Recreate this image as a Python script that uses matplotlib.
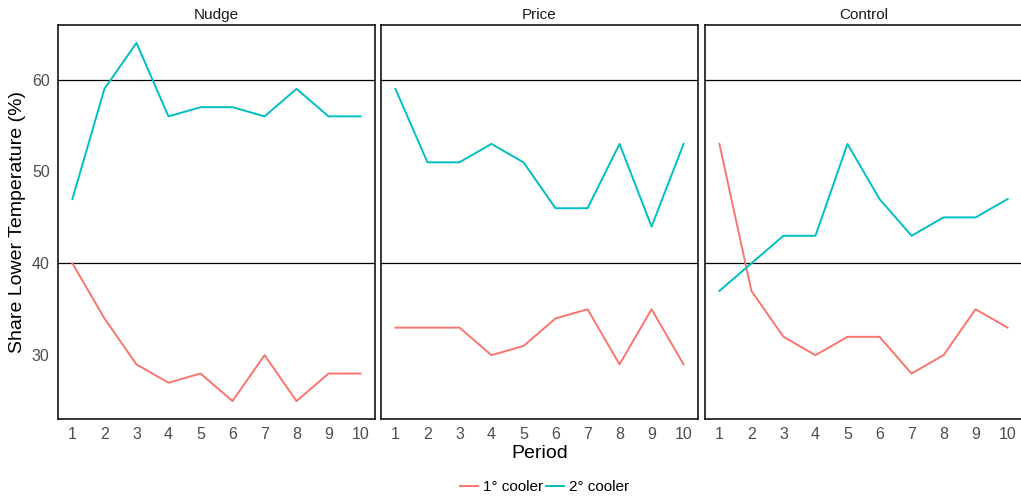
import numpy as np
import matplotlib.pyplot as plt
from matplotlib.lines import Line2D

plt.rcParams['font.family'] = ['Liberation Sans', 'DejaVu Sans']

periods = np.arange(1, 11)
panels = ['Nudge', 'Price', 'Control']

# share lower temperature (%) per period
cooler1 = {
    'Nudge':   [40, 34, 29, 27, 28, 25, 30, 25, 28, 28],
    'Price':   [33, 33, 33, 30, 31, 34, 35, 29, 35, 29],
    'Control': [53, 37, 32, 30, 32, 32, 28, 30, 35, 33],
}
cooler2 = {
    'Nudge':   [47, 59, 64, 56, 57, 57, 56, 59, 56, 56],
    'Price':   [59, 51, 51, 53, 51, 46, 46, 53, 44, 53],
    'Control': [37, 40, 43, 43, 53, 47, 43, 45, 45, 47],
}
ref_lines = [40, 60]

red = '#F8766D'
teal = '#00BFC4'

W, H = 1021, 501
fig = plt.figure(figsize=(W / 100, H / 100), dpi=100)

lefts = [58, 381, 705]
width = 317
top, bottom = 25, 419

all_vals = sum(cooler1.values(), []) + sum(cooler2.values(), [])
lo, hi = min(all_vals), max(all_vals)
pad = (hi - lo) * 0.05

for i, (name, l) in enumerate(zip(panels, lefts)):
    ax = fig.add_axes([l / W, 1 - bottom / H, width / W, (bottom - top) / H])
    for yv in ref_lines:
        ax.axhline(yv, color='black', lw=0.9, zorder=1)
    ax.plot(periods, cooler1[name], color=red, lw=1.4, zorder=2)
    ax.plot(periods, cooler2[name], color=teal, lw=1.4, zorder=2)
    ax.set_xlim(0.55, 10.45)
    ax.set_ylim(lo - pad, hi + pad)
    ax.set_xticks(periods)
    ax.set_yticks([30, 40, 50, 60])
    ax.tick_params(length=0, labelsize=11.5, labelcolor='#4D4D4D', pad=6)
    if i > 0:
        ax.set_yticklabels([])
    for sp in ax.spines.values():
        sp.set_color('black')
        sp.set_linewidth(1.1)
    ax.set_title(name, fontsize=11, color='#1A1A1A', pad=4)
    if i == 0:
        ax.set_ylabel('Share Lower Temperature (%)', fontsize=14, labelpad=4)
    if i == 1:
        ax.set_xlabel('Period', fontsize=14, labelpad=2)

handles = [Line2D([0], [0], color=red, lw=1.4), Line2D([0], [0], color=teal, lw=1.4)]
fig.legend(handles, ['1° cooler', '2° cooler'], loc='center', bbox_to_anchor=(0.533, 1 - 487 / H),
           ncol=2, frameon=False, fontsize=11, handlelength=1.2, handletextpad=0.3,
           columnspacing=0.2)

fig.savefig('out.png', dpi=100)
